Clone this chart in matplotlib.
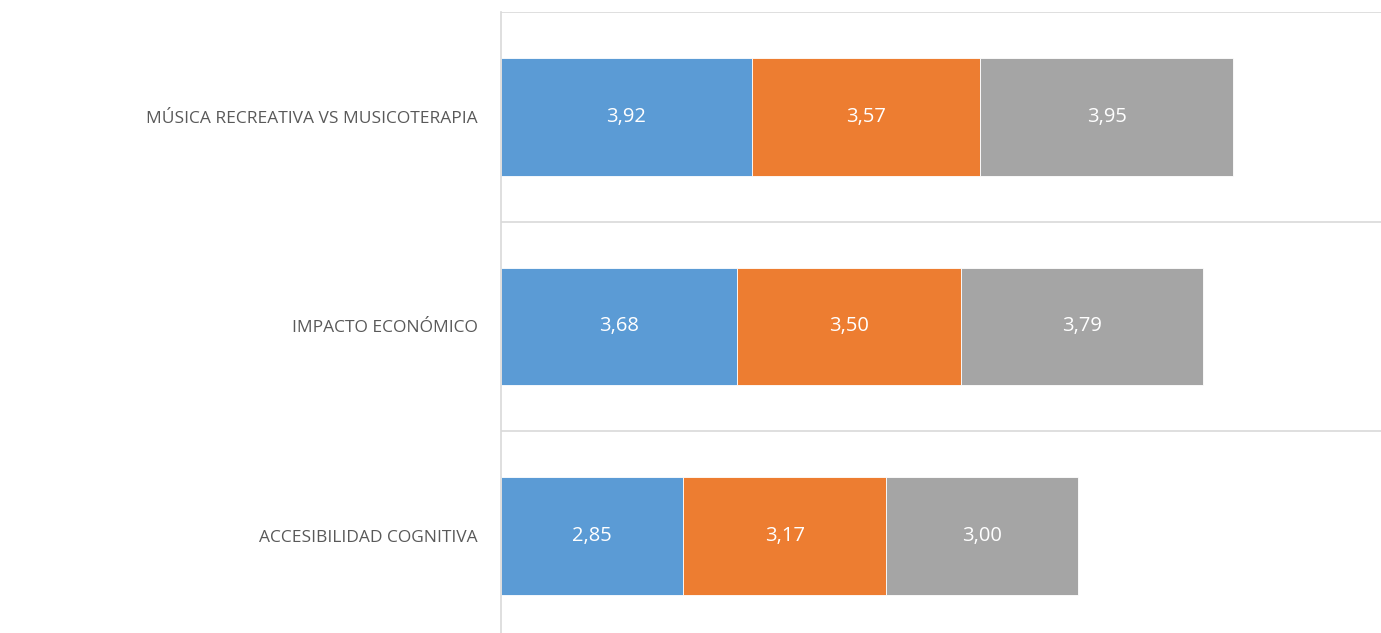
import matplotlib.pyplot as plt

categories = ["MÚSICA RECREATIVA VS MUSICOTERAPIA", "IMPACTO ECONÓMICO", "ACCESIBILIDAD COGNITIVA"]
serie_1 = [3.92, 3.68, 2.85]
serie_2 = [3.57, 3.50, 3.17]
serie_3 = [3.95, 3.79, 3.00]
colors = ["#5B9BD5", "#ED7D31", "#A5A5A5"]

plt.rcParams["font.family"] = ["Open Sans", "DejaVu Sans"]

fig = plt.figure(figsize=(13.81, 6.33), dpi=100)
ax = fig.add_axes([501 / 1381, -8 / 633, 880 / 1381, 629 / 633])

y = list(range(len(categories)))
left = [0.0] * len(categories)
for values, color in zip([serie_1, serie_2, serie_3], colors):
    bars = ax.barh(y, values, left=left, height=0.56, color=color,
                   edgecolor="white", linewidth=0.6)
    for bar, v in zip(bars, values):
        ax.text(bar.get_x() + bar.get_width() / 2, bar.get_y() + bar.get_height() / 2,
                f"{v:.2f}".replace(".", ","), ha="center", va="center",
                color="white", fontsize=14.5)
    left = [l + v for l, v in zip(left, values)]

ax.set_xlim(0, 13.75)
ax.set_ylim(2.5, -0.5)

# category gridlines between bars
for b in [-0.5, 0.5, 1.5, 2.5]:
    ax.axhline(b, color="#D9D9D9", linewidth=1.2, zorder=0)

ax.set_xticks([])
ax.set_yticks(y)
ax.set_yticklabels(categories, color="#595959", fontsize=12.5)
ax.tick_params(axis="y", length=0, pad=16.5)
for side in ["top", "right", "bottom"]:
    ax.spines[side].set_visible(False)
ax.spines["left"].set_color("#D9D9D9")
ax.spines["left"].set_linewidth(1.2)

fig.savefig("out.png", dpi=100)
